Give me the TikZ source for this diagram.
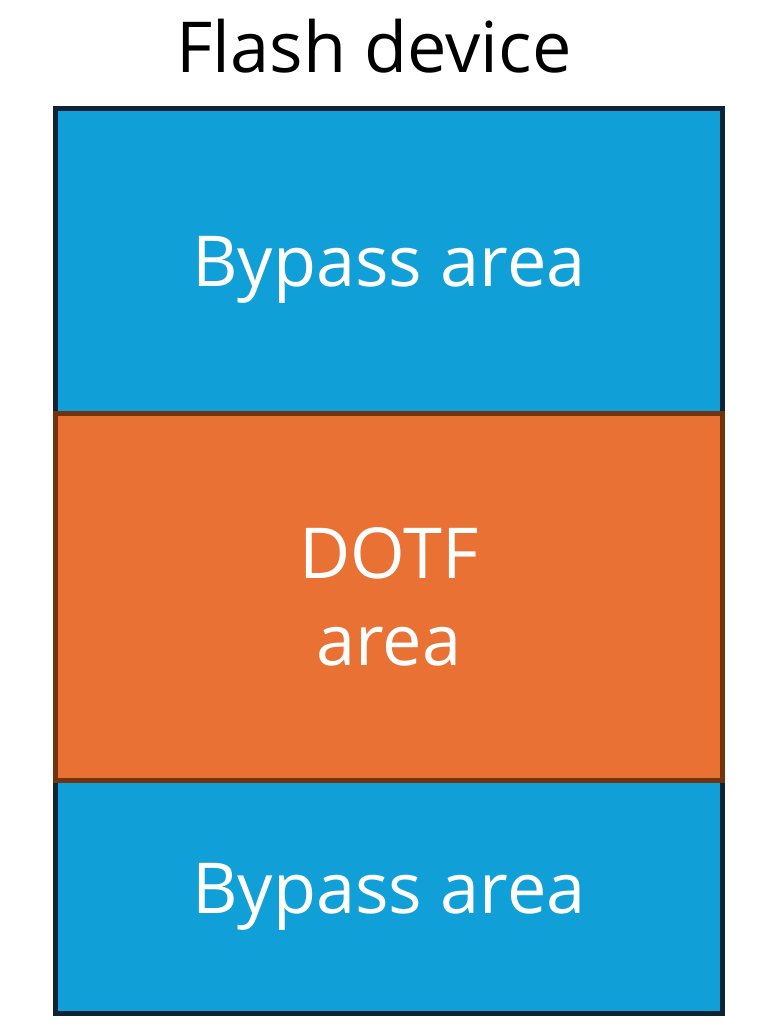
\documentclass[tikz,border=0pt]{standalone}
\usepackage{fontspec}
\setmainfont{Open Sans}
\usepackage{tikz}
\usetikzlibrary{positioning}
\usepackage{xcolor}
\definecolor{bypassfill}{HTML}{119FD7}
\definecolor{bypassline}{HTML}{0D2437}
\definecolor{dotffill}{HTML}{E87133}
\definecolor{dotfline}{HTML}{72330F}

\begin{document}
\begin{tikzpicture}[
    node distance=0pt,
    area/.style={rectangle, draw, line width=1.45pt, outer sep=0pt, minimum width=6.67cm, align=center, text=white, font=\fontsize{20}{24.75}\selectfont},
    bypass/.style={area, fill=bypassfill, draw=bypassline},
    dotf/.style={area, fill=dotffill, draw=dotfline}
]
\useasboundingbox (0,0) rectangle (7.74,10.35);
\node[anchor=base, font=\fontsize{20}{24}\selectfont] (title) at (3.74,9.63) {Flash device};
\node[bypass, minimum height=3.05cm, text depth=0pt, anchor=north west] (top) at (0.555,9.265) {Bypass area};
\node[dotf, minimum height=3.67cm, below=of top] (dotf) {DOTF\\area};
\node[bypass, minimum height=2.33cm, below=of dotf] (bottom) {Bypass area};
% redraw the orange frame on top of the blue ones
\draw[dotfline, line width=1.45pt] (dotf.north west) rectangle (dotf.south east);
\end{tikzpicture}
\end{document}
